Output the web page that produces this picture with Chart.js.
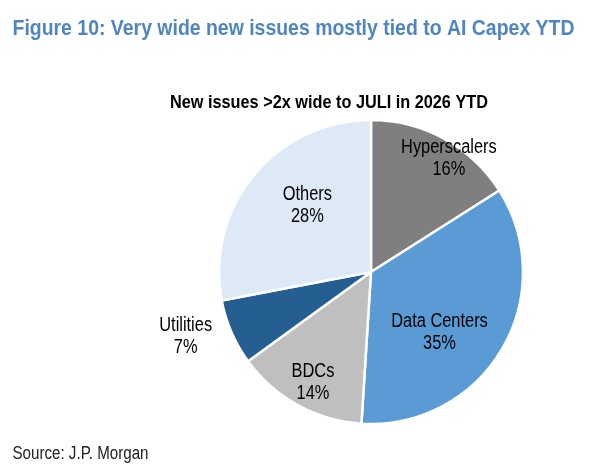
<!DOCTYPE html>
<html>
<head>
<meta charset="utf-8">
<script src="https://cdn.jsdelivr.net/npm/chart.js@4/dist/chart.umd.min.js"></script>
<style>
  html, body { margin: 0; padding: 0; background: #fff; }
  #wrap { position: relative; width: 608px; height: 474px; }
</style>
</head>
<body>
<div id="wrap"><canvas id="pie-chart" width="608" height="474"></canvas></div>
<script>
// data
var categories = ["Hyperscalers", "Data Centers", "BDCs", "Utilities", "Others"];
var shares = [16, 35, 14, 7, 28];
var sliceColors = ["#7f7f7f", "#5b9bd5", "#bfbfbf", "#255e91", "#dde9f6"];

var FONT = "'Liberation Sans', Arial, sans-serif";
var NARROW = 0.82; // squeeze to look like Arial Narrow

// label placement: fraction of radius along the slice mid angle, plus a nudge
var labelCfg = {
  radius: [0.9, 0.6, 0.82, 1.3, 0.62],
  nudge: [[12, 5], [-10, 13], [2, 0], [-4, -15], [9, -8]]
};

// draw text squeezed horizontally; if width is given, fit to that width
function narrowText(ctx, text, x, y, align, width) {
  var w = ctx.measureText(text).width;
  var sx = width ? width / w : NARROW;
  var dx = align == "center" ? -w * sx / 2 : 0;
  ctx.save();
  ctx.textAlign = "left";
  ctx.translate(x + dx, y);
  ctx.scale(sx, 1);
  ctx.fillText(text, 0, 0);
  ctx.restore();
}

// draws the slice labels (name + percent)
var sliceLabels = {
  id: "sliceLabels",
  afterDatasetsDraw: function(chart) {
    var ctx = chart.ctx;
    var meta = chart.getDatasetMeta(0);
    ctx.save();
    ctx.fillStyle = "#000";
    ctx.font = "20px " + FONT;
    ctx.textBaseline = "alphabetic";
    meta.data.forEach(function(arc, i) {
      var mid = (arc.startAngle + arc.endAngle) / 2;
      var r = arc.outerRadius * labelCfg.radius[i];
      var x = arc.x + Math.cos(mid) * r + labelCfg.nudge[i][0];
      var y = arc.y + Math.sin(mid) * r + labelCfg.nudge[i][1];
      narrowText(ctx, categories[i], x, y - 4, "center");
      narrowText(ctx, shares[i] + "%", x, y + 18, "center");
    });
    ctx.restore();
  }
};

// figure title, chart title and source line
var figureText = {
  id: "figureText",
  afterDraw: function(chart) {
    var ctx = chart.ctx;
    ctx.save();
    ctx.textBaseline = "alphabetic";
    ctx.fillStyle = "#4f86c0";
    ctx.font = "bold 22px " + FONT;
    narrowText(ctx, "Figure 10: Very wide new issues mostly tied to AI Capex YTD", 12.5, 35, "left", 562);
    ctx.fillStyle = "#000";
    ctx.font = "bold 18.5px " + FONT;
    narrowText(ctx, "New issues >2x wide to JULI in 2026 YTD", 329, 108, "center", 318);
    ctx.fillStyle = "#222";
    ctx.font = "18px " + FONT;
    narrowText(ctx, "Source: J.P. Morgan", 12.5, 459, "left", 136);
    ctx.restore();
  }
};

new Chart(document.getElementById("pie-chart"), {
  type: "pie",
  data: {
    labels: categories,
    datasets: [
      {
        data: shares,
        backgroundColor: sliceColors,
        borderColor: "#ffffff",
        borderWidth: 2.5
      }
    ]
  },
  options: {
    responsive: false,
    animation: false,
    radius: 152,
    layout: { padding: { left: 219, right: 85, top: 120, bottom: 50 } },
    plugins: {
      legend: { display: false },
      tooltip: { enabled: false },
      title: { display: false }
    }
  },
  plugins: [sliceLabels, figureText]
});
</script>
</body>
</html>
